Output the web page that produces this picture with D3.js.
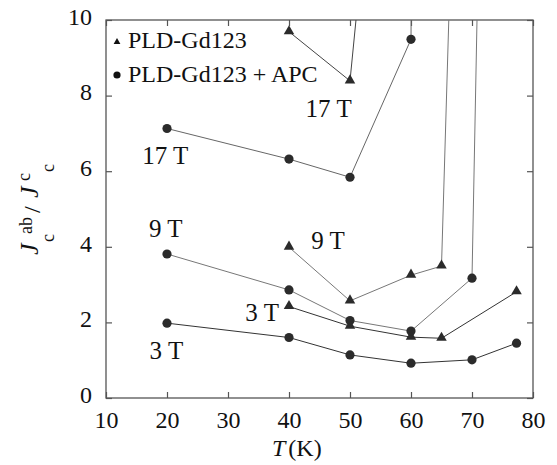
<!DOCTYPE html>
<html>
<head>
<meta charset="utf-8">
<script src="https://cdn.jsdelivr.net/npm/d3@7"></script>
<style>
  body { margin: 0; background: #fff; }
  svg text { font-family: "Liberation Serif", "Times New Roman", serif; fill: #111; }
</style>
</head>
<body>
<div id="chart"></div>
<script>
// data (points above 10 are off-scale and get clipped)
var triT17 = [40, 50, 60];
var triY17 = [9.69, 8.39, 24.8];
var triT9 = [40, 50, 60, 65, 70];
var triY9 = [3.99, 2.57, 3.25, 3.49, 30.7];
var triT3 = [40, 50, 60, 65, 77.3];
var triY3 = [2.42, 1.90, 1.61, 1.58, 2.81];

var cirT17 = [20, 40, 50, 60, 65];
var cirY17 = [7.13, 6.32, 5.84, 9.49, 150];
var cirT9 = [20, 40, 50, 60, 70, 77.3];
var cirY9 = [3.81, 2.86, 2.05, 1.77, 3.17, 64];
var cirT3 = [20, 40, 50, 60, 70, 77.3];
var cirY3 = [1.98, 1.60, 1.14, 0.92, 1.01, 1.45];

var xTicks = [10, 20, 30, 40, 50, 60, 70, 80];
var yTicks = [0, 2, 4, 6, 8, 10];

var fieldLabels = [
  {text: "17 T", t: 46.5, v: 7.43},
  {text: "17 T", t: 19.7, v: 6.19},
  {text: "9 T", t: 19.8, v: 4.26},
  {text: "3 T", t: 19.9, v: 1.03},
  {text: "3 T", t: 35.6, v: 2.04},
  {text: "9 T", t: 46.4, v: 3.94}
];

// series table
var series = [
  {shape: "tri", t: triT17, y: triY17, stroke: "#444"},
  {shape: "tri", t: triT9, y: triY9, stroke: "#777"},
  {shape: "tri", t: triT3, y: triY3, stroke: "#333"},
  {shape: "cir", t: cirT17, y: cirY17, stroke: "#666"},
  {shape: "cir", t: cirT9, y: cirY9, stroke: "#777"},
  {shape: "cir", t: cirT3, y: cirY3, stroke: "#333"}
];

var W = 557, H = 465;
var margin = {left: 106, right: 24, top: 20, bottom: 67};
var pw = W - margin.left - margin.right;
var ph = H - margin.top - margin.bottom;

var svg = d3.select("#chart").append("svg")
  .attr("width", W)
  .attr("height", H);

var x = d3.scaleLinear().domain([10, 80]).range([0, pw]);
var y = d3.scaleLinear().domain([0, 10]).range([ph, 0]);

var g = svg.append("g")
  .attr("transform", "translate(" + margin.left + "," + margin.top + ")");

g.append("clipPath").attr("id", "clip")
  .append("rect").attr("width", pw).attr("height", ph);

// axes, ticks pointing inward on all four sides
var axisColor = "#555";
var xb = g.append("g").attr("transform", "translate(0," + ph + ")")
  .call(d3.axisBottom(x).tickValues(xTicks).tickSize(-6).tickSizeOuter(0).tickPadding(13));
var xt = g.append("g")
  .call(d3.axisTop(x).tickValues(xTicks).tickSize(-6).tickSizeOuter(0).tickFormat(""));
var yl = g.append("g")
  .call(d3.axisLeft(y).tickValues(yTicks).tickSize(-6).tickSizeOuter(0).tickPadding(14));
var yr = g.append("g").attr("transform", "translate(" + pw + ",0)")
  .call(d3.axisRight(y).tickValues(yTicks).tickSize(-6).tickSizeOuter(0).tickFormat(""));

[xb, xt, yl, yr].forEach(function(a) {
  a.attr("font-family", null).attr("font-size", null);
  a.select(".domain").remove();
  a.selectAll("line").attr("stroke", axisColor).attr("stroke-width", 1.2);
  a.selectAll("text").style("font-size", "24px").attr("fill", "#111");
});
yl.selectAll("text").attr("dy", "0.18em");

g.append("rect")
  .attr("width", pw).attr("height", ph)
  .attr("fill", "none")
  .attr("stroke", axisColor)
  .attr("stroke-width", 1.3);

// lines and markers
var plot = g.append("g").attr("clip-path", "url(#clip)");
var line = d3.line()
  .x(function(d) { return x(d[0]); })
  .y(function(d) { return y(d[1]); });
var triSym = d3.symbol().type(d3.symbolTriangle).size(48);

series.forEach(function(s) {
  var pts = s.t.map(function(t, i) { return [t, s.y[i]]; });
  plot.append("path")
    .datum(pts)
    .attr("d", line)
    .attr("fill", "none")
    .attr("stroke", s.stroke)
    .attr("stroke-width", 1);

  var shown = pts.filter(function(d) { return d[1] <= 10; });
  var m = g.selectAll(null).data(shown).enter();
  if (s.shape === "tri") {
    m.append("path")
      .attr("d", triSym)
      .attr("transform", function(d) { return "translate(" + x(d[0]) + "," + (y(d[1]) - 0.5) + ")"; })
      .attr("fill", "#2b2b2b");
  } else {
    m.append("circle")
      .attr("cx", function(d) { return x(d[0]); })
      .attr("cy", function(d) { return y(d[1]); })
      .attr("r", 4.6)
      .attr("fill", "#2b2b2b");
  }
});

// field labels
g.selectAll(".flabel").data(fieldLabels).enter()
  .append("text")
  .attr("class", "flabel")
  .attr("x", function(d) { return x(d.t); })
  .attr("y", function(d) { return y(d.v); })
  .attr("text-anchor", "middle")
  .style("font-size", "25px")
  .text(function(d) { return d.text; });

// legend
var leg = g.append("g").attr("transform", "translate(11,0)");
leg.append("path")
  .attr("d", d3.symbol().type(d3.symbolTriangle).size(20))
  .attr("transform", "translate(0,22)")
  .attr("fill", "#111");
leg.append("text").attr("x", 11).attr("y", 28)
  .style("font-size", "24px").text("PLD-Gd123");
leg.append("circle").attr("cx", 0).attr("cy", 55).attr("r", 3.6).attr("fill", "#111");
leg.append("text").attr("x", 11).attr("y", 62)
  .style("font-size", "24px").text("PLD-Gd123 + APC");

// x title
var xt2 = svg.append("text")
  .attr("x", 272).attr("y", 456)
  .style("font-size", "24px");
xt2.append("tspan").style("font-style", "italic").text("T");
xt2.append("tspan").attr("dx", 3).text("(K)");

// y title, built from pieces in a rotated frame
var yt = svg.append("g").attr("transform", "translate(38,207) rotate(-90)");
var yParts = [
  {s: "J", x: -48, y: 0, size: 26, it: true},
  {s: "c", x: -35, y: 16, size: 18, it: false},
  {s: "ab", x: -27, y: -6, size: 18, it: false},
  {s: "/", x: -6, y: 2, size: 24, it: false},
  {s: "J", x: 9, y: 0, size: 26, it: true},
  {s: "c", x: 26, y: -8, size: 18, it: false},
  {s: "c", x: 35, y: 16, size: 18, it: false}
];
yt.selectAll("text").data(yParts).enter().append("text")
  .attr("x", function(d) { return d.x; })
  .attr("y", function(d) { return d.y; })
  .style("font-size", function(d) { return d.size + "px"; })
  .style("font-style", function(d) { return d.it ? "italic" : "normal"; })
  .text(function(d) { return d.s; });
</script>
</body>
</html>
